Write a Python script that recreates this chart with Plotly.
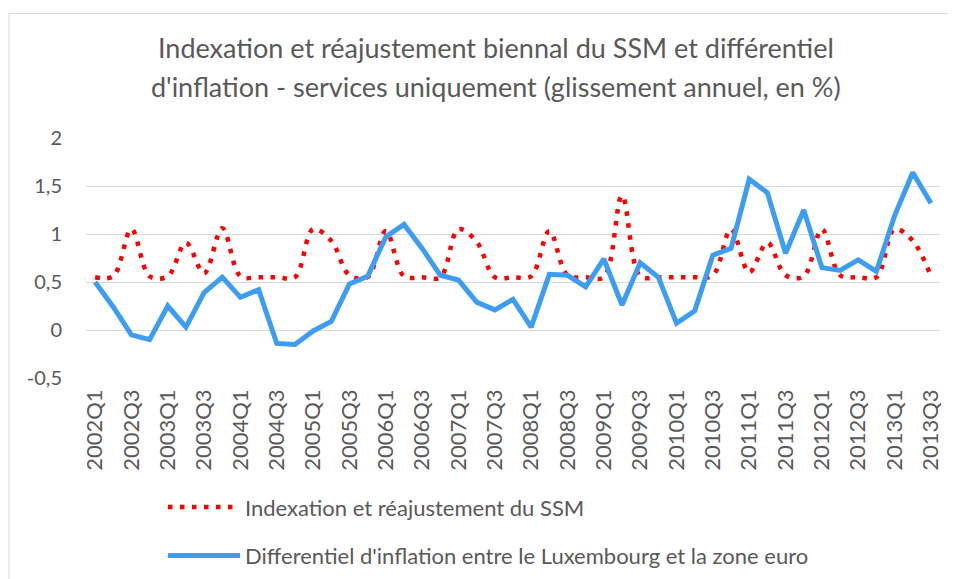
import plotly.graph_objects as go

quarters = [f"{y}Q{q}" for y in range(2002, 2014) for q in range(1, 5)][:47]

ssm_indexation = [0.55, 0.56, 1.05, 0.56, 0.56, 0.91, 0.59, 1.06, 0.56, 0.55,
                  0.55, 0.55, 1.05, 0.93, 0.57, 0.55, 1.03, 0.56, 0.55, 0.55,
                  1.05, 0.92, 0.55, 0.55, 0.56, 1.03, 0.57, 0.55, 0.55, 1.40,
                  0.56, 0.55, 0.55, 0.55, 0.57, 1.05, 0.60, 0.91, 0.57, 0.56,
                  1.05, 0.57, 0.55, 0.55, 1.05, 0.93, 0.56]

inflation_diff = [0.50, 0.24, -0.05, -0.10, 0.25, 0.03, 0.39, 0.55, 0.34, 0.42,
                  -0.14, -0.15, -0.01, 0.09, 0.48, 0.56, 0.97, 1.10, 0.85, 0.57,
                  0.52, 0.29, 0.21, 0.32, 0.03, 0.58, 0.57, 0.45, 0.74, 0.26,
                  0.70, 0.55, 0.07, 0.20, 0.78, 0.85, 1.57, 1.43, 0.80, 1.25,
                  0.65, 0.62, 0.73, 0.61, 1.19, 1.64, 1.32]

y_ticks = [-0.5, 0, 0.5, 1, 1.5, 2]
y_tick_labels = ["-0,5", "0", "0,5", "1", "1,5", "2"]
x_tick_labels = [q for q in quarters if q.endswith("Q1") or q.endswith("Q3")]

series_names = ["Indexation et réajustement du SSM",
                "Differentiel d'inflation entre le Luxembourg et la zone euro"]
title_lines = ["Indexation et réajustement biennal du SSM et différentiel",
               "d'inflation - services uniquement (glissement annuel, en %)"]

TXT = "#595959"
FONT = "Lato"

# the page body has an 8px default margin: the figure is shrunk and every
# target position (measured in window pixels) is shifted by this offset
OFF = 8
W, H = 956 - OFF, 579 - OFF
PLOT_X0, PLOT_X1 = 86, 940      # window pixels
PLOT_Y0, PLOT_Y1 = 137.5, 377.7
L = PLOT_X0 - OFF
R = W - (PLOT_X1 - OFF)
T = PLOT_Y0 - OFF
B = H - (PLOT_Y1 - OFF)
pw = W - L - R
ph = H - T - B

def px(x):
    return (x - OFF - L) / pw

def py(y):
    return (H - B - (y - OFF)) / ph

fig = go.Figure()
fig.add_trace(go.Scatter(
    x=quarters, y=ssm_indexation, name=series_names[0], mode="lines",
    line=dict(color="#ff0000", width=4.5, dash="4.5px,7.5px", shape="spline", smoothing=1),
    legendgroup="a"))
fig.add_trace(go.Scatter(
    x=quarters, y=inflation_diff, name=series_names[1], mode="lines",
    line=dict(color="#3d9df3", width=5), legendgroup="b"))

fig.update_layout(
    width=W, height=H,
    margin=dict(l=L, r=R, t=T, b=B, autoexpand=False),
    paper_bgcolor="white", plot_bgcolor="white",
    font=dict(family=FONT, color=TXT),
    showlegend=True,
    legend=dict(x=px(163), y=py(486), xanchor="left", yanchor="top",
                font=dict(size=22, color=TXT, family=FONT),
                itemwidth=72, tracegroupgap=17, bgcolor="rgba(0,0,0,0)"),
    xaxis=dict(type="category", categoryorder="array", categoryarray=quarters,
               range=[-0.5, 46.5], tickmode="array", tickvals=x_tick_labels,
               ticktext=x_tick_labels, tickangle=-90,
               tickfont=dict(size=22, color=TXT, family=FONT),
               showgrid=False, showline=False, zeroline=False, ticks="",
               ticklabelstandoff=6),
    yaxis=dict(range=[-0.5, 2], tickmode="array", tickvals=y_ticks,
               ticktext=y_tick_labels, tickfont=dict(size=20, color=TXT, family=FONT),
               showgrid=True, gridcolor="#d9d9d9", gridwidth=1, zeroline=False,
               showline=False, ticks="", ticklabelstandoff=23),
    annotations=[
        dict(text=title_lines[0], x=px(496), y=py(47), xref="paper", yref="paper",
             xanchor="center", yanchor="middle", showarrow=False,
             font=dict(size=27, color=TXT, family=FONT)),
        dict(text=title_lines[1], x=px(496), y=py(86), xref="paper", yref="paper",
             xanchor="center", yanchor="middle", showarrow=False,
             font=dict(size=27, color=TXT, family=FONT)),
    ],
    shapes=[dict(type="rect", xref="paper", yref="paper",
                 x0=px(9), x1=px(1000), y0=py(620), y1=py(13),
                 line=dict(color="#d9d9d9", width=1), fillcolor="rgba(0,0,0,0)",
                 layer="below")],
)

fig.write_html("out.html")
